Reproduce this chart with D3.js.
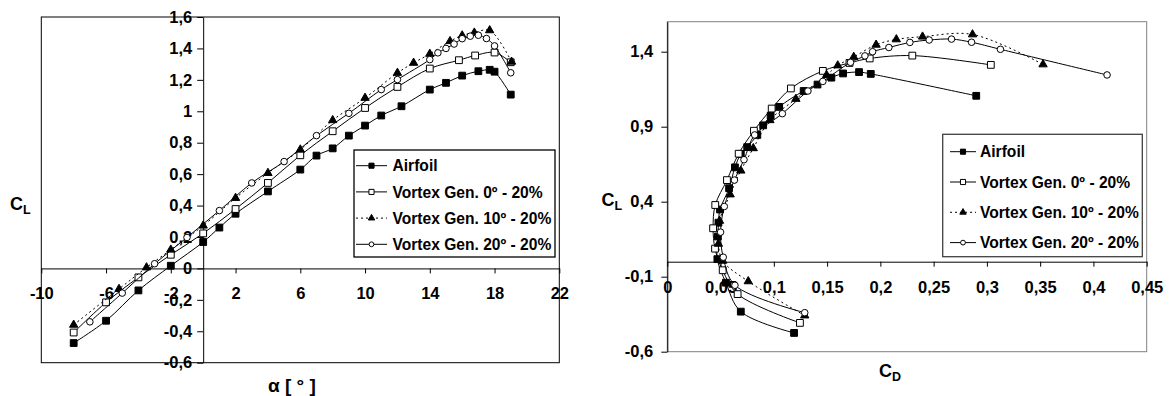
<!DOCTYPE html>
<html>
<head>
<meta charset="utf-8">
<script src="https://cdn.jsdelivr.net/npm/d3@7"></script>
<style>
  body { margin: 0; background: #fff; }
  svg { display: block; font-family: "Liberation Sans", Arial, sans-serif; font-weight: bold; }
</style>
</head>
<body>
<svg id="chart" width="1170" height="396"></svg>
<script>
// --- data (alpha in degrees, CL, CD) ---
const seriesNames = ["Airfoil", "Vortex Gen. 0º - 20%", "Vortex Gen. 10º - 20%", "Vortex Gen. 20º - 20%"];

const airfoilAlpha = [-8, -6, -4, -2, 0, 1, 2, 4, 6, 7, 8, 9, 10, 11, 12.25, 14, 15, 16, 17, 17.7, 18, 19];
const airfoilCL = [-0.475, -0.333, -0.14, 0.017, 0.168, 0.26, 0.348, 0.49, 0.629, 0.718, 0.764, 0.845, 0.909, 0.973, 1.032, 1.138, 1.181, 1.227, 1.255, 1.264, 1.252, 1.106];
const airfoilCD = [0.119, 0.069, 0.055, 0.047, 0.0475, 0.048, 0.0495, 0.058, 0.0635, 0.069, 0.075, 0.0845, 0.090, 0.097, 0.105, 0.128, 0.141, 0.154, 0.165, 0.180, 0.191, 0.290];

const vg0Alpha = [-8, -6, -4, -2, 0, 2, 4, 6, 8, 10, 12, 14, 15.8, 16.8, 18, 19];
const vg0CL = [-0.408, -0.216, -0.057, 0.087, 0.223, 0.378, 0.544, 0.72, 0.873, 1.021, 1.155, 1.272, 1.325, 1.355, 1.374, 1.312];
const vg0CD = [0.1245, 0.066, 0.052, 0.0448, 0.043, 0.045, 0.056, 0.067, 0.0813, 0.098, 0.116, 0.146, 0.171, 0.190, 0.230, 0.3037];

const vg10Alpha = [-8, -5.2, -3.5, -2, 0, 2, 4, 6, 8, 10, 12, 13, 14, 15.25, 16, 16.75, 17.7, 19.05];
const vg10CL = [-0.359, -0.131, 0.006, 0.119, 0.272, 0.448, 0.607, 0.756, 0.943, 1.085, 1.244, 1.308, 1.365, 1.446, 1.482, 1.5, 1.515, 1.315];
const vg10CD = [0.129, 0.076, 0.052, 0.048, 0.049, 0.059, 0.069, 0.0807, 0.0963, 0.1207, 0.1495, 0.160, 0.175, 0.196, 0.215, 0.2396, 0.2865, 0.3527];

const vg20Alpha = [-7, -5, -3, -1, 1, 3, 5, 7, 9, 11, 12, 14, 14.5, 15, 15.5, 16, 16.5, 17, 17.5, 18, 19];
const vg20CL = [-0.34, -0.157, 0.03, 0.197, 0.368, 0.544, 0.68, 0.845, 0.987, 1.138, 1.202, 1.329, 1.372, 1.4, 1.428, 1.462, 1.478, 1.484, 1.463, 1.416, 1.245];
const vg20CD = [0.129, 0.0635, 0.0525, 0.050, 0.0535, 0.063, 0.072, 0.082, 0.108, 0.132, 0.146, 0.172, 0.1855, 0.1927, 0.208, 0.2277, 0.2458, 0.2668, 0.2856, 0.3127, 0.4128];

// tick values
const alphaTicks = [-10, -6, -2, 2, 6, 10, 14, 18, 22];
const clTicksLeft = [-0.6, -0.4, -0.2, 0, 0.2, 0.4, 0.6, 0.8, 1, 1.2, 1.4, 1.6];
const cdTicks = [0, 0.05, 0.1, 0.15, 0.2, 0.25, 0.3, 0.35, 0.4, 0.45];
const clTicksRight = [-0.6, -0.1, 0.4, 0.9, 1.4];

const series = [
  { name: seriesNames[0], alpha: airfoilAlpha, cl: airfoilCL, cd: airfoilCD, marker: "square", filled: true, dash: null },
  { name: seriesNames[1], alpha: vg0Alpha, cl: vg0CL, cd: vg0CD, marker: "square", filled: false, dash: null },
  { name: seriesNames[2], alpha: vg10Alpha, cl: vg10CL, cd: vg10CD, marker: "triangle", filled: true, dash: "2,3" },
  { name: seriesNames[3], alpha: vg20Alpha, cl: vg20CL, cd: vg20CD, marker: "circle", filled: false, dash: null }
];

const svg = d3.select("#chart");
const fmt = d3.formatLocale({ decimal: ",", thousands: ".", grouping: [3], currency: ["", ""], minus: "-" }).format(".2~f");

const symbolType = { square: d3.symbolSquare, triangle: d3.symbolTriangle, circle: d3.symbolCircle };
const plotSize = { square: 46, triangle: 30, circle: 34 };
const legendSize = { square: 26, triangle: 18, circle: 18 };

function drawPanel(cfg) {
  const g = svg.append("g");
  const x = d3.scaleLinear().domain(cfg.xDomain).range([cfg.left, cfg.right]);
  const y = d3.scaleLinear().domain([-0.6, 1.6]).range([cfg.bottom, cfg.top]);

  // plot frame
  g.append("rect")
    .attr("x", cfg.left).attr("y", cfg.top)
    .attr("width", cfg.right - cfg.left).attr("height", cfg.bottom - cfg.top)
    .attr("fill", "none").attr("stroke", cfg.frame).attr("stroke-width", 1);

  // axes cross at zero
  const xAxis = g.append("g")
    .attr("transform", `translate(0,${y(0)})`)
    .call(d3.axisBottom(x).tickValues(cfg.xTicks).tickFormat(fmt).tickSize(5).tickSizeOuter(0).tickPadding(cfg.xPad));
  const yAxis = g.append("g")
    .attr("transform", `translate(${x(0)},0)`)
    .call(d3.axisLeft(y).tickValues(cfg.yTicks).tickFormat(fmt).tickSize(6).tickSizeOuter(0).tickPadding(cfg.yPad));
  [xAxis, yAxis].forEach(a => {
    a.selectAll("path,line").attr("stroke", "#000");
    a.selectAll("text").attr("fill", "#000").style("font-size", "16.5px").style("font-weight", "bold")
      .style("font-family", '"Liberation Sans", Arial, sans-serif');
  });

  // series
  series.forEach(s => {
    const pts = s[cfg.xKey].map((v, i) => [v, s.cl[i]]);
    const line = d3.line().x(d => x(d[0])).y(d => y(d[1])).curve(d3.curveCatmullRom.alpha(0.5));
    g.append("path")
      .attr("d", line(pts))
      .attr("fill", "none").attr("stroke", "#000").attr("stroke-width", 1)
      .attr("stroke-dasharray", s.dash);
    g.selectAll(null).data(pts).enter().append("path")
      .attr("transform", d => `translate(${x(d[0])},${y(d[1])})`)
      .attr("d", d3.symbol(symbolType[s.marker], plotSize[s.marker]))
      .attr("fill", s.filled ? "#000" : "#fff")
      .attr("stroke", "#000").attr("stroke-width", 1);
  });

  // legend
  const L = cfg.legend;
  g.append("rect")
    .attr("x", L.x).attr("y", L.y).attr("width", L.w).attr("height", L.h)
    .attr("fill", "#fff").attr("stroke", L.stroke).attr("stroke-width", 1.3);
  series.forEach((s, i) => {
    const cy = L.first + i * L.step;
    g.append("line")
      .attr("x1", L.lineX0).attr("x2", L.lineX1).attr("y1", cy).attr("y2", cy)
      .attr("stroke", "#000").attr("stroke-width", 1).attr("stroke-dasharray", s.dash);
    g.append("path")
      .attr("transform", `translate(${(L.lineX0 + L.lineX1) / 2},${cy})`)
      .attr("d", d3.symbol(symbolType[s.marker], legendSize[s.marker]))
      .attr("fill", s.filled ? "#000" : "#fff")
      .attr("stroke", "#000").attr("stroke-width", 1);
    g.append("text")
      .attr("x", L.textX).attr("y", cy).attr("dy", "0.36em")
      .style("font-size", "15.6px")
      .text(s.name);
  });
  return g;
}

// left: CL vs alpha
const left = drawPanel({
  xKey: "alpha", xDomain: [-10, 22], xTicks: alphaTicks, yTicks: clTicksLeft,
  left: 41.3, right: 559.3, top: 17, bottom: 362.7, frame: "#000",
  xPad: 14, yPad: 5,
  legend: { x: 354, y: 150, w: 201, h: 107, stroke: "#000", first: 165.7, step: 26.2, lineX0: 356, lineX1: 387, textX: 392.5 }
});
left.append("text").attr("x", 10).attr("y", 209.5).style("font-size", "18px")
  .text("C").append("tspan").attr("dy", 4).style("font-size", "12.5px").text("L");
left.append("text").attr("x", 268).attr("y", 391.5).style("font-size", "19px").text("α [ ° ]");

// right: CL vs CD
const right = drawPanel({
  xKey: "cd", xDomain: [0, 0.45], xTicks: cdTicks, yTicks: clTicksRight,
  left: 667.3, right: 1146.7, top: 21.7, bottom: 351.7, frame: "#808080",
  xPad: 15, yPad: 8,
  legend: { x: 942.7, y: 134.3, w: 199.6, h: 122.4, stroke: "#404040", first: 151.7, step: 30.3, lineX0: 950, lineX1: 976, textX: 980 }
});
right.append("text").attr("x", 601.5).attr("y", 205.5).style("font-size", "18px")
  .text("C").append("tspan").attr("dy", 4).style("font-size", "12.5px").text("L");
right.append("text").attr("x", 879).attr("y", 376.5).style("font-size", "18px")
  .text("C").append("tspan").attr("dy", 4).style("font-size", "12.5px").text("D");
</script>
</body>
</html>
